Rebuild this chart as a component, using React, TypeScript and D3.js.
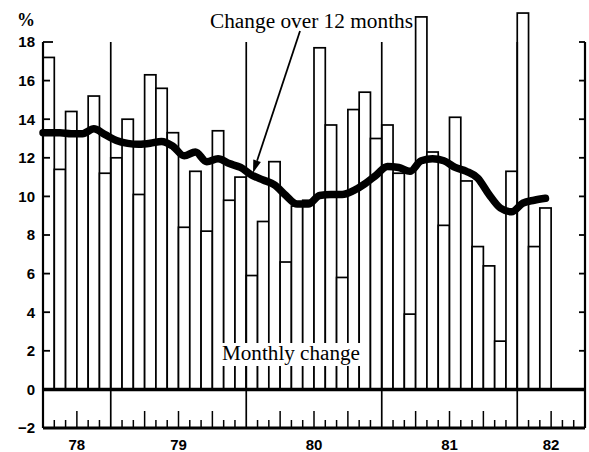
import React from "react";
import * as d3 from "d3";

// Monthly change (%), one value per month, first bar = first month shown
const monthlyChange = [
  17.2, 11.4, 14.4, 13.2, 15.2, 11.2,
  12.0, 14.0, 10.1, 16.3, 15.6, 13.3, 8.4, 11.3, 8.2, 13.4, 9.8, 11.0,
  5.9, 8.7, 11.8, 6.6, 9.5, 9.8, 17.7, 13.7, 5.8, 14.5, 15.4, 13.0,
  13.7, 11.2, 3.9, 19.3, 12.3, 8.5, 14.1, 10.8, 7.4, 6.4, 2.5, 11.3,
  19.5, 7.4, 9.4,
];

// Change over 12 months (%), same months
const change12Months = [
  13.3, 13.3, 13.25, 13.25, 13.5, 13.2,
  12.9, 12.75, 12.7, 12.75, 12.85, 12.6, 12.1, 12.3, 11.8, 11.95, 11.7, 11.5,
  11.1, 10.85, 10.6, 10.05, 9.6, 9.6, 10.05, 10.1, 10.1, 10.3, 10.65, 11.1,
  11.55, 11.5, 11.3, 11.85, 11.95, 11.85, 11.5, 11.3, 10.95, 10.1, 9.4, 9.2,
  9.65, 9.8, 9.9,
];

const yearLabels = ["78", "79", "80", "81", "82"];
const yearBreaks = [6, 18, 30, 42]; // month index where a new year segment starts
const monthsShown = 48;
const yTicks = [-2, 0, 2, 4, 6, 8, 10, 12, 14, 16, 18];

const W = 589;
const H = 452;

export default function App() {
  const x = d3.scaleLinear().domain([0, monthsShown]).range([43, 585]);
  const y = d3.scaleLinear().domain([-2, 18]).range([428, 42]);

  const edges = [0, ...yearBreaks, monthsShown];
  const pts: [number, number][] = [
    [0, change12Months[0]],
    ...change12Months.map((v, i) => [i + 0.5, v] as [number, number]),
  ];
  const line = d3
    .line<[number, number]>()
    .x((d) => x(d[0]))
    .y((d) => y(d[1]))
    .curve(d3.curveMonotoneX);

  const monthTicks = d3.range(1, monthsShown).filter((m) => !yearBreaks.includes(m));

  // arrow
  const ax1 = 300, ay1 = 31, ax2 = 253, ay2 = 173;
  const ang = Math.atan2(ay2 - ay1, ax2 - ax1);
  const ah = 13, aw = 4;
  const bx = ax2 - ah * Math.cos(ang), by = ay2 - ah * Math.sin(ang);
  const head = [
    [ax2, ay2],
    [bx + aw * Math.sin(ang), by - aw * Math.cos(ang)],
    [bx - aw * Math.sin(ang), by + aw * Math.cos(ang)],
  ]
    .map((p) => p.join(","))
    .join(" ");

  const sans = "'Liberation Sans', Arial, sans-serif";
  const serif = "'Liberation Serif', 'Times New Roman', serif";

  return (
    <svg
      width={W}
      height={H}
      viewBox={`0 0 ${W} ${H}`}
      style={{ position: "absolute", left: 0, top: 0, background: "#fff" }}
    >
      <rect x={0} y={0} width={W} height={H} fill="#fff" />

      {/* monthly bars */}
      <g>
        {monthlyChange.map((v, i) => (
          <rect
            key={i}
            x={x(i)}
            y={y(v)}
            width={x(i + 1) - x(i)}
            height={y(0) - y(v)}
            fill="#fff"
            stroke="#000"
            strokeWidth={1.7}
          />
        ))}
      </g>

      {/* year dividers */}
      {yearBreaks.map((b) => (
        <line key={b} x1={x(b)} x2={x(b)} y1={y(18)} y2={y(-2)} stroke="#000" strokeWidth={1.7} />
      ))}

      {/* bottom strip */}
      <line x1={x(0)} x2={x(monthsShown)} y1={y(0)} y2={y(0)} stroke="#000" strokeWidth={3.5} />
      <line x1={x(0)} x2={x(monthsShown)} y1={y(-2)} y2={y(-2)} stroke="#000" strokeWidth={3} />
      {monthTicks.map((m) => (
        <line
          key={m}
          x1={x(m)}
          x2={x(m)}
          y1={y(-2)}
          y2={y(-2) - (m % 3 === 0 ? 17 : 8)}
          stroke="#000"
          strokeWidth={1.5}
        />
      ))}

      {/* left axis */}
      <line x1={x(0)} x2={x(0)} y1={y(18)} y2={y(-2)} stroke="#000" strokeWidth={2.2} />
      {yTicks
        .filter((t) => t > 0)
        .map((t) => (
          <line
            key={t}
            x1={x(0)}
            x2={x(0) + (t === 18 ? 10 : 7)}
            y1={y(t)}
            y2={y(t)}
            stroke="#000"
            strokeWidth={1.8}
          />
        ))}
      {/* right axis */}
      <line x1={x(monthsShown)} x2={x(monthsShown)} y1={y(18)} y2={y(-2)} stroke="#000" strokeWidth={2.2} />
      {yTicks
        .filter((t) => t > 0)
        .map((t) => (
          <line
            key={t}
            x1={x(monthsShown)}
            x2={x(monthsShown) - 6}
            y1={y(t)}
            y2={y(t)}
            stroke="#000"
            strokeWidth={1.8}
          />
        ))}

      {/* y tick labels */}
      {yTicks.map((t) => (
        <text
          key={t}
          x={35}
          y={y(t)}
          dy="0.36em"
          textAnchor="end"
          fontFamily={sans}
          fontWeight="bold"
          fontSize={15}
          fill="#000"
        >
          {t < 0 ? `\u2212${Math.abs(t)}` : t}
        </text>
      ))}
      <text x={35} y={26} textAnchor="end" fontFamily={serif} fontSize={18} fontWeight="bold" fill="#000">
        %
      </text>

      {/* year labels */}
      {yearLabels.map((lab, i) => (
        <text
          key={lab}
          x={x((edges[i] + edges[i + 1]) / 2)}
          y={450}
          textAnchor="middle"
          fontFamily={sans}
          fontWeight="bold"
          fontSize={15}
          fill="#000"
        >
          {lab}
        </text>
      ))}

      {/* 12-month change line */}
      <path
        d={line(pts) || ""}
        fill="none"
        stroke="#000"
        strokeWidth={7.5}
        strokeLinecap="round"
        strokeLinejoin="round"
      />

      {/* Monthly change label */}
      <rect x={219} y={343} width={145} height={23} fill="#fff" />
      <text x={222} y={360} fontFamily={serif} fontSize={20} textLength={138} lengthAdjust="spacingAndGlyphs" fill="#000">
        Monthly change
      </text>

      {/* title + arrow */}
      <text x={210} y={28} fontFamily={serif} fontSize={20} textLength={203} lengthAdjust="spacingAndGlyphs" fill="#000">
        Change over 12 months
      </text>
      <line x1={ax1} y1={ay1} x2={bx} y2={by} stroke="#000" strokeWidth={1.8} />
      <polygon points={head} fill="#000" />
    </svg>
  );
}
